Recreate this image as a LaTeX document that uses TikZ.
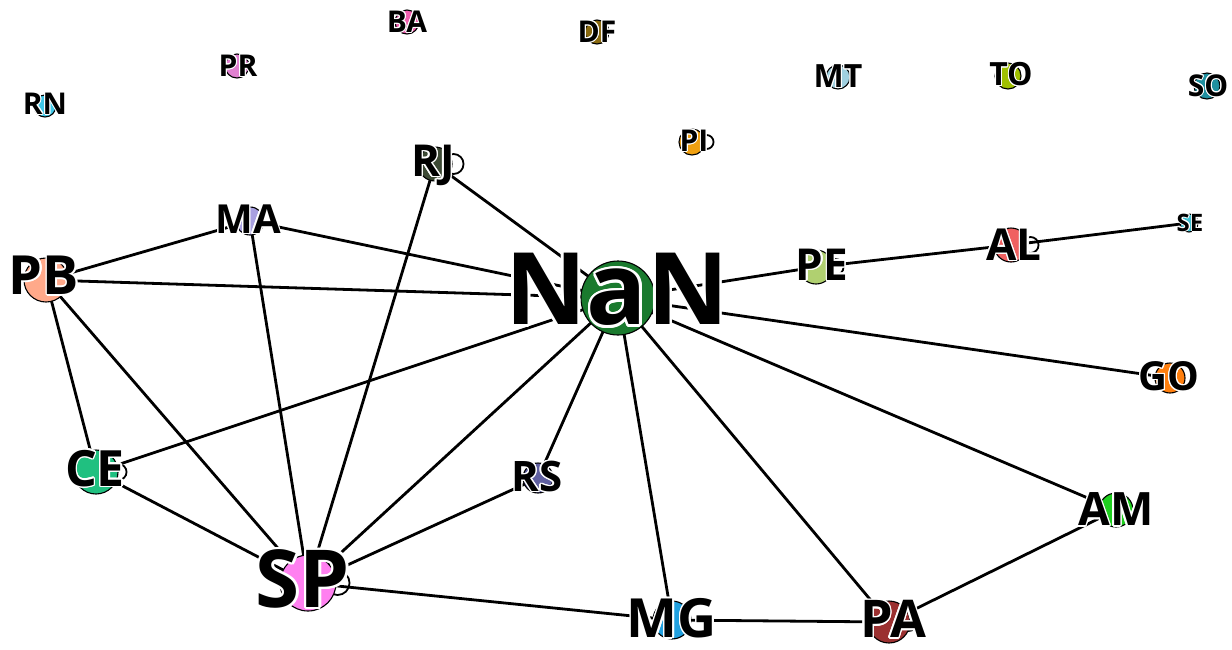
\documentclass[tikz,border=0pt]{standalone}
\usepackage{fontspec}
\setmainfont{Open Sans}
\usepackage[copies]{contour}
\contournumber{16}
\pgfdeclarelayer{bg}
\pgfsetlayers{bg,main}
\newcommand\lbl[3]{{\fontsize{#1pt}{#1pt}\selectfont\bfseries\contourlength{#2pt}\contour{white}{#3}}}
\tikzset{
  st/.style={circle, draw=black, line width=1.1pt, inner sep=0pt, minimum size=#1},
  lab/.style={inner sep=0pt, anchor=center},
  ed/.style={line width=2.8pt, black},
  lp/.style={line width=1.8pt, black}
}
\definecolor{cNaN}{HTML}{1A7A2E}
\definecolor{cPB}{HTML}{FFA98A}
\definecolor{cMA}{HTML}{A8A0E0}
\definecolor{cRJ}{HTML}{3D4A35}
\definecolor{cRN}{HTML}{40C8E8}
\definecolor{cPR}{HTML}{E080D0}
\definecolor{cBA}{HTML}{F060B0}
\definecolor{cDF}{HTML}{8A6A10}
\definecolor{cPI}{HTML}{F0A010}
\definecolor{cMT}{HTML}{A0D0E0}
\definecolor{cTO}{HTML}{A0C000}
\definecolor{cSO}{HTML}{2090A0}
\definecolor{cPE}{HTML}{B0D070}
\definecolor{cAL}{HTML}{F06060}
\definecolor{cSE}{HTML}{40C0D0}
\definecolor{cGO}{HTML}{FF7F0E}
\definecolor{cAM}{HTML}{20D020}
\definecolor{cPA}{HTML}{9B3030}
\definecolor{cMG}{HTML}{20A0E0}
\definecolor{cRS}{HTML}{6060A0}
\definecolor{cSP}{HTML}{FF80F0}
\definecolor{cCE}{HTML}{20C080}
\begin{document}
\begin{tikzpicture}[x=1pt,y=-1pt]
\useasboundingbox (0,0) rectangle (1232,649);
% circles
\node[st=74pt, fill=cNaN] (NaN) at (618,298) {};
\node[st=44pt, fill=cPB] (PB) at (46,280) {};
\node[st=28pt, fill=cMA] (MA) at (250,221) {};
\node[st=34pt, fill=cRJ] (RJ) at (435,164) {};
\node[st=22pt, fill=cRN] (RN) at (45,106) {};
\node[st=24pt, fill=cPR] (PR) at (237,66) {};
\node[st=24pt, fill=cBA] (BA) at (407,22) {};
\node[st=24pt, fill=cDF] (DF) at (597,32) {};
\node[st=26pt, fill=cPI] (PI) at (692,142) {};
\node[st=24pt, fill=cMT] (MT) at (838,77) {};
\node[st=26pt, fill=cTO] (TO) at (1008,76) {};
\node[st=26pt, fill=cSO] (SO) at (1207,86) {};
\node[st=34pt, fill=cPE] (PE) at (816,267) {};
\node[st=34pt, fill=cAL] (AL) at (1011,245) {};
\node[st=18pt, fill=cSE] (SE) at (1189,223) {};
\node[st=30pt, fill=cGO] (GO) at (1170,378) {};
\node[st=34pt, fill=cAM] (AM) at (1116,510) {};
\node[st=42pt, fill=cPA] (PA) at (889,622) {};
\node[st=38pt, fill=cMG] (MG) at (672,620) {};
\node[st=30pt, fill=cRS] (RS) at (538,478) {};
\node[st=56pt, fill=cSP] (SP) at (308,583) {};
\node[st=44pt, fill=cCE] (CE) at (96,472) {};
% labels
\node[lab] (tNaN) at (617,291) {\lbl{100}{2.6}{NaN}};
\node[lab] (tPB) at (44,276) {\lbl{54}{1.6}{PB}};
\node[lab] (tMA) at (248,220) {\lbl{40}{1.3}{MA}};
\node[lab] (tRJ) at (433,166) {\lbl{44}{1.4}{RJ}};
\node[lab] (tRN) at (45,104) {\lbl{30}{1.0}{RN}};
\node[lab] (tPR) at (238,66) {\lbl{30}{1.0}{PR}};
\node[lab] (tBA) at (407,22) {\lbl{30}{1.0}{BA}};
\node[lab] (tDF) at (597,32) {\lbl{30}{1.0}{DF}};
\node[lab] (tPI) at (694,141) {\lbl{30}{1.0}{PI}};
\node[lab] (tMT) at (838,77) {\lbl{32}{1.0}{MT}};
\node[lab] (tTO) at (1011,75) {\lbl{32}{1.0}{TO}};
\node[lab] (tSO) at (1208,86) {\lbl{30}{1.0}{SO}};
\node[lab] (tPE) at (822,265) {\lbl{44}{1.4}{PE}};
\node[lab] (tAL) at (1014,245) {\lbl{44}{1.4}{AL}};
\node[lab] (tSE) at (1190,223) {\lbl{24}{0.9}{SE}};
\node[lab] (tGO) at (1169,377) {\lbl{40}{1.3}{GO}};
\node[lab] (tAM) at (1116,510) {\lbl{46}{1.4}{AM}};
\node[lab] (tPA) at (893,620) {\lbl{52}{1.6}{PA}};
\node[lab] (tMG) at (672,619) {\lbl{54}{1.6}{MG}};
\node[lab] (tRS) at (537,477) {\lbl{42}{1.3}{RS}};
\node[lab] (tSP) at (303,580) {\lbl{80}{2.2}{SP}};
\node[lab] (tCE) at (95,469) {\lbl{50}{1.5}{CE}};
% edges
\begin{pgfonlayer}{bg}
\draw[ed] (PB.center) -- (MA.center);
\draw[ed] (PB.center) -- (NaN.center);
\draw[ed] (PB.center) -- (CE.center);
\draw[ed] (PB.center) -- (SP.center);
\draw[ed] (MA.center) -- (NaN.center);
\draw[ed] (MA.center) -- (SP.center);
\draw[ed] (RJ.center) -- (NaN.center);
\draw[ed] (RJ.center) -- (SP.center);
\draw[ed] (NaN.center) -- (CE.center);
\draw[ed] (NaN.center) -- (SP.center);
\draw[ed] (NaN.center) -- (RS.center);
\draw[ed] (NaN.center) -- (MG.center);
\draw[ed] (NaN.center) -- (PA.center);
\draw[ed] (NaN.center) -- (AM.center);
\draw[ed] (NaN.center) -- (GO.center);
\draw[ed] (NaN.center) -- (PE.center);
\draw[ed] (PE.center) -- (AL.center);
\draw[ed] (AL.center) -- (SE.center);
\draw[ed] (CE.center) -- (SP.center);
\draw[ed] (SP.center) -- (RS.center);
\draw[ed] (SP.center) -- (MG.center);
\draw[ed] (MG.center) -- (PA.center);
\draw[ed] (PA.center) -- (AM.center);
% self loops
\draw[lp] ([xshift=1pt]RJ.east) circle (10pt);
\draw[lp] ([xshift=1pt]SP.east) circle (12pt);
\draw[lp] ([xshift=2pt]PE.east) circle (8pt);
\draw[lp] ([xshift=2pt]AL.east) circle (8pt);
\draw[lp] ([xshift=1pt]PI.east) circle (7pt);
\draw[lp] ([xshift=0pt]CE.east) circle (8pt);
\draw[lp] ([xshift=-2pt]PA.east) circle (9pt);
\end{pgfonlayer}
\end{tikzpicture}
\end{document}
